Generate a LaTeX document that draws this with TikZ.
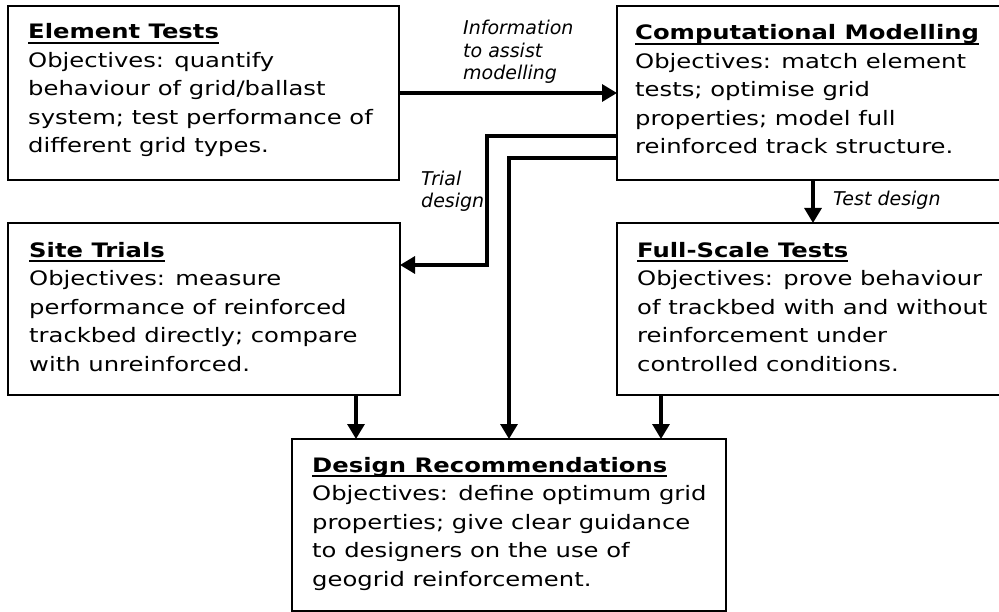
\documentclass[tikz,border=0pt]{standalone}
\usepackage{fontspec}
\setmainfont{DejaVu Sans}[FakeStretch=1.22]
\newfontfamily\lblfont{DejaVu Sans}
\usetikzlibrary{arrows.meta,calc}
\newcommand\myul[1]{\setbox0=\hbox{#1}\rlap{\rule[-4.6pt]{\wd0}{1.9pt}}\box0}
\begin{document}
\begin{tikzpicture}[x=1pt,y=-1pt,
  box/.style={draw, line width=2.4pt, inner sep=0pt, outer sep=0pt, anchor=north west},
  body/.style={anchor=base west, align=left, inner sep=0pt, font=\fontsize{19.9}{28.5}\selectfont},
  lbl/.style={anchor=base west, align=left, inner sep=0pt, font=\lblfont\itshape\fontsize{19}{22.5}\selectfont},
  arr/.style={line width=3.2pt, -{Triangle[length=15pt,width=17pt]}}]
\useasboundingbox (0,0) rectangle (999,612);
% boxes
\node[box, minimum width=391pt, minimum height=174pt] (et) at (8,6) {};
\node[box, minimum width=392pt, minimum height=174pt] (cm) at (617,6) {};
\node[box, minimum width=392pt, minimum height=172pt] (st) at (8,223) {};
\node[box, minimum width=392pt, minimum height=172pt] (fst) at (617,223) {};
\node[box, minimum width=434pt, minimum height=172pt] (dr) at (292,439) {};
% box texts (anchored at the baseline of their last line)
\node[body] (ett) at ($(et.north west)+(20,147)$) {\myul{\textbf{Element Tests}}\\Objectives: quantify\\behaviour of grid/ballast\\system; test performance of\\different grid types.};
\node[body] (cmt) at ($(cm.north west)+(18,148)$) {\myul{\textbf{Computational Modelling}}\\Objectives: match element\\tests; optimise grid\\properties; model full\\reinforced track structure.};
\node[body] (stt) at ($(st.north west)+(21,148)$) {\myul{\textbf{Site Trials}}\\Objectives: measure\\performance of reinforced\\trackbed directly; compare\\with unreinforced.};
\node[body] (fstt) at ($(fst.north west)+(20,148)$) {\myul{\textbf{Full-Scale Tests}}\\Objectives: prove behaviour\\of trackbed with and without\\reinforcement under\\controlled conditions.};
\node[body] (drt) at ($(dr.north west)+(20,147)$) {\myul{\textbf{Design Recommendations}}\\Objectives: define optimum grid\\properties; give clear guidance\\to designers on the use of\\geogrid reinforcement.};
% labels
\node[lbl] (l1) at (463,80) {Information\\to assist\\modelling};
\node[lbl] (l2) at (421,208) {Trial\\design};
\node[lbl] (l3) at (833,206) {Test design};
% connectors
\draw[arr] (et) -- (cm);
\coordinate (tb) at (487,265);
\draw[arr] ($(cm.north west)+(0,130)$) -| (tb) -- (st.east |- tb);
\draw[arr] ($(cm.north west)+(0,152)$) -| (dr.north);
\draw[arr] (cm.south) -- (fst.north);
\draw[arr] ([xshift=-44pt]st.south east) -- ([xshift=-44pt]st.south east |- dr.north);
\draw[arr] ([xshift=44pt]fst.south west) -- ([xshift=44pt]fst.south west |- dr.north);
\end{tikzpicture}
\end{document}
